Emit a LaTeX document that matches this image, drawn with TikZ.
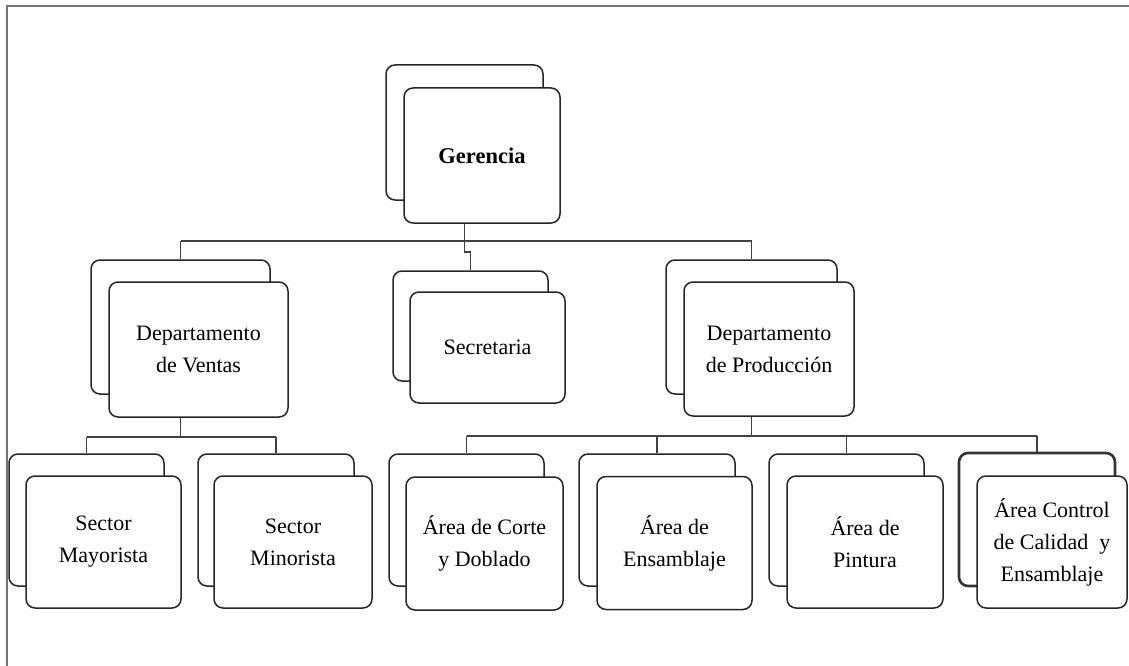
\documentclass[tikz,border=0pt]{standalone}
\usepackage{fontspec}
\setmainfont{Liberation Serif}
\begin{document}
\begin{tikzpicture}[x=1pt,y=-1pt,
  box/.style={draw=black!85, line width=1.5pt, fill=white, rounded corners=9pt,
    inner sep=0pt, align=center, font=\fontsize{22}{32}\selectfont},
  thickbox/.style={box, line width=2.6pt, draw=black!80},
  bus/.style={draw=black!75, line width=1.8pt},
  frame/.style={draw=black!55, line width=2pt}]
\useasboundingbox (0,0) rectangle (1129,666);
\draw[frame] (7,666) -- (7,6) -- (1129,6);

% level 0
\node[box, minimum width=157, minimum height=135] (gerB) at (464.5,132.5) {};
\node[box, minimum width=156, minimum height=135, font=\fontsize{22.5}{32}\selectfont\bfseries] (ger) at (482,155.5) {Gerencia};

% level 1
\node[box, minimum width=179, minimum height=134] (venB) at (180.5,327) {};
\node[box, minimum width=179, minimum height=135] (ven) at (198.5,349.5) {Departamento\\de Ventas};
\node[box, minimum width=155, minimum height=110] (secB) at (470.5,326) {};
\node[box, minimum width=155, minimum height=111] (sec) at (487.5,347.5) {Secretaria};
\node[box, minimum width=171, minimum height=134] (proB) at (751.5,327) {};
\node[box, minimum width=170, minimum height=134] (pro) at (769,349) {Departamento\\de Producción};

% level 2
\node[box, minimum width=155, minimum height=132] (mayB) at (86.5,520) {};
\node[box, minimum width=155, minimum height=132] (may) at (103.5,542) {Sector\\Mayorista};
\node[box, minimum width=156, minimum height=132] (minB) at (276,520) {};
\node[box, minimum width=158, minimum height=132] (min) at (293,542) {Sector\\Minorista};
\node[box, minimum width=155, minimum height=132] (corB) at (466.5,520) {};
\node[box, minimum width=157, minimum height=133] (cor) at (484.5,543.5) {Área de Corte\\y Doblado};
\node[box, minimum width=156, minimum height=132] (ensB) at (657,520) {};
\node[box, minimum width=155, minimum height=133] (ens) at (674.5,543) {Área de\\Ensamblaje};
\node[box, minimum width=155, minimum height=132] (pinB) at (846.5,520) {};
\node[box, minimum width=156, minimum height=132] (pin) at (865,542) {Área de\\Pintura};
\node[thickbox, minimum width=156, minimum height=133] (calB) at (1037,519.5) {};
\node[box, minimum width=150, minimum height=132] (cal) at (1052,542) {Área Control\\de Calidad~ y\\Ensamblaje};

% connectors
\coordinate (bus1) at (0,241);
\coordinate (bus2) at (0,437);
\coordinate (bus3) at (0,436);

\draw[bus] (ger.south -| gerB) -- (gerB |- bus1);
\draw[bus] (venB |- bus1) -- (proB |- bus1);
\draw[bus] (venB |- bus1) -- (venB.north);
\draw[bus] (proB |- bus1) -- (proB.north);
\draw[bus] (gerB |- bus1) -- ++(0,11) -| (secB.north);

\draw[bus] (ven.south -| venB) -- (venB |- bus2);
\draw[bus] (mayB |- bus2) -- (minB |- bus2);
\draw[bus] (mayB |- bus2) -- (mayB.north);
\draw[bus] (minB |- bus2) -- (minB.north);

\draw[bus] (pro.south -| proB) -- (proB |- bus3);
\draw[bus] (corB |- bus3) -- (calB |- bus3);
\draw[bus] (corB |- bus3) -- (corB.north);
\draw[bus] (ensB |- bus3) -- (ensB.north);
\draw[bus] (pinB |- bus3) -- (pinB.north);
\draw[bus] (calB |- bus3) -- (calB.north);
\end{tikzpicture}
\end{document}
